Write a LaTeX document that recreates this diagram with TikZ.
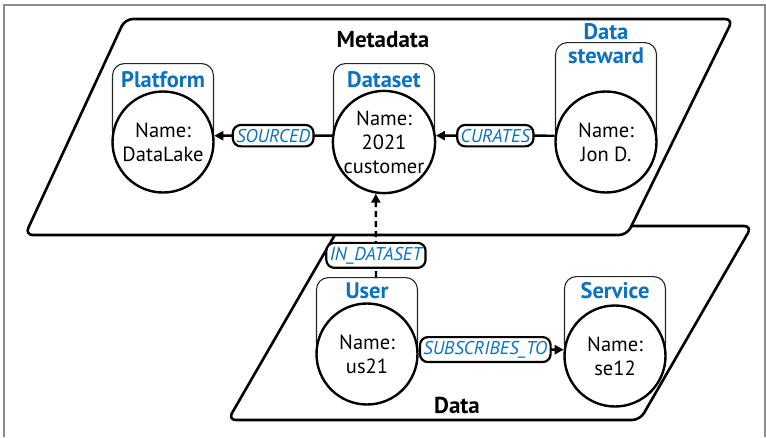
\documentclass[tikz,border=0pt]{standalone}
\usepackage{fontspec}
\setmainfont{PT Sans}
\usetikzlibrary{arrows.meta, positioning}
\definecolor{kindblue}{RGB}{12,113,190}

\begin{document}
\begin{tikzpicture}[x=1pt, y=-1pt,
      zone/.style={draw, line width=2.6pt, rounded corners=8pt, line join=round},
      kindbox/.style={draw=black!85, line width=1.1pt, rounded corners=12pt, minimum width=101pt, anchor=north},
      kind/.style={text=kindblue, font=\fontsize{22.5}{24}\selectfont\bfseries, align=center, anchor=base, inner sep=0pt},
      entity/.style={circle, draw, line width=2.4pt, fill=white, minimum size=101pt, inner sep=0pt, align=center, font=\fontsize{20.5}{24}\selectfont},
      rel/.style={line width=2.4pt, -{Triangle[length=9pt, width=9pt]}},
      lbl/.style={draw, solid, fill=white, line width=2.2pt, rounded corners=8pt, text=kindblue, font=\fontsize{18.5}{19}\selectfont\itshape, inner xsep=3.5pt, inner ysep=4pt},
      zonename/.style={font=\fontsize{23}{24}\selectfont\bfseries, anchor=base}]
  \useasboundingbox (0,0) rectangle (766,437);

  % Frame
  \draw[black!45, line width=1.2pt] (4,437) -- (4,5) -- (765,5) -- (765,437);

  % Zones (data behind metadata)
  \draw[zone, fill=white] (340,226) -- (752,226) -- (640,420) -- (228,420) -- cycle;
  \draw[zone, fill=white] (125,19) -- (733,19) -- (627,235) -- (25,235) -- cycle;
  \node[zonename] (metaname) at (383,47) {Metadata};
  \node[zonename] (dataname) at (457,413) {Data};

  % Metadata nodes
  \node[kindbox, minimum height=79pt] (platbox) at (163,63) {};
  \node[kind] at (163,87) {Platform};
  \node[entity] (platform) at (163,142) {Name:\\DataLake};

  \node[kindbox, minimum height=79pt] (setbox) at (384,63) {};
  \node[kind] at (384,87) {Dataset};
  \node[entity] (dataset) at (384,142) {Name:\\2021\\customer};

  \node[kindbox, minimum height=100pt] (stewbox) at (606,42) {};
  \node[kind] at (606,63) {Data\\steward};
  \node[entity] (steward) at (606,142) {Name:\\Jon D.};

  % Data nodes
  \node[kindbox, minimum height=77pt] (userbox) at (367,277) {};
  \node[kind] at (367,298) {User};
  \node[entity] (user) at (367,354) {Name:\\us21};

  \node[kindbox, minimum height=80pt] (servbox) at (615,276) {};
  \node[kind] at (615,298) {Service};
  \node[entity] (service) at (615,356) {Name:\\se12};

  % Relations
  \draw[rel] (dataset.173) -- node[lbl] {SOURCED} (platform.7);
  \draw[rel] (steward.173) -- node[lbl] {CURATES} (dataset.7);
  \draw[rel] (user.5) -- node[lbl, pos=0.46] {SUBSCRIBES\_TO} (service.173);
  \draw[rel, dashed, dash pattern=on 6pt off 4pt] ([xshift=9pt]userbox.north) -- node[lbl, pos=0.26] {IN\_DATASET} (dataset.261);
\end{tikzpicture}
\end{document}
